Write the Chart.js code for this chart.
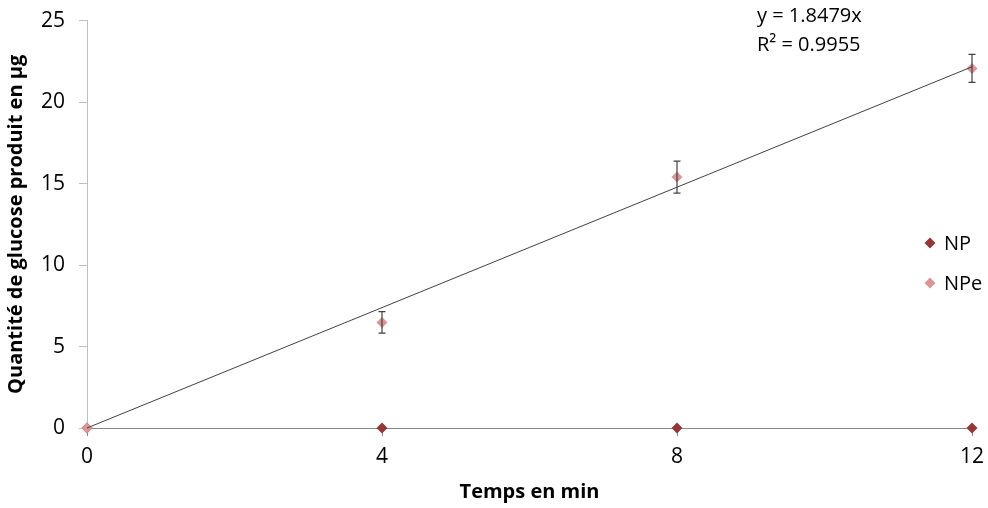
<!DOCTYPE html>
<html>
<head>
<meta charset="utf-8">
<script src="https://cdn.jsdelivr.net/npm/chart.js@4/dist/chart.umd.min.js"></script>
<style>
  html, body { margin: 0; padding: 0; background: #fff; }
  #wrap { width: 988px; height: 508px; }
</style>
</head>
<body>
<div id="wrap"><canvas id="chart" width="988" height="508"></canvas></div>
<script>
// data
const times = [0, 4, 8, 12];
const npValues = [0, 0, 0, 0];
const npeValues = [0, 6.48, 15.4, 22.07];
const npeErrors = [0, 0.66, 0.98, 0.86];
const trendX = [0, 12];
const trendY = [0, 22.17];
const equationLines = ['y = 1.8479x', 'R² = 0.9955'];
const seriesNames = ['NP', 'NPe'];
const seriesColors = ['#953735', '#D99694'];

const FONT = '"Open Sans", "Noto Sans", sans-serif';

const errorBars = {
    id: 'errorBars',
    afterDatasetsDraw(chart) {
        const ctx = chart.ctx;
        const x = chart.scales.x, y = chart.scales.y;
        ctx.save();
        ctx.strokeStyle = '#404040';
        ctx.lineWidth = 1.2;
        times.forEach((t, i) => {
            if (!npeErrors[i]) return;
            const px = x.getPixelForValue(t);
            const top = y.getPixelForValue(npeValues[i] + npeErrors[i]);
            const bot = y.getPixelForValue(npeValues[i] - npeErrors[i]);
            ctx.beginPath();
            ctx.moveTo(px, top); ctx.lineTo(px, bot);
            ctx.moveTo(px - 3.5, top); ctx.lineTo(px + 3.5, top);
            ctx.moveTo(px - 3.5, bot); ctx.lineTo(px + 3.5, bot);
            ctx.stroke();
        });
        ctx.restore();
    }
};

const extras = {
    id: 'extras',
    afterDraw(chart) {
        const ctx = chart.ctx;
        const area = chart.chartArea;
        ctx.save();
        // trendline equation
        ctx.fillStyle = '#000';
        ctx.font = '20px ' + FONT;
        ctx.textBaseline = 'middle';
        ctx.textAlign = 'left';
        ctx.fillText(equationLines[0], 757, 16);
        ctx.fillText(equationLines[1], 757, 45);
        // legend
        seriesNames.forEach((name, i) => {
            const cx = area.right - 42;
            const cy = 243 + i * 40;
            ctx.fillStyle = seriesColors[i];
            ctx.beginPath();
            ctx.moveTo(cx, cy - 5.5); ctx.lineTo(cx + 5.5, cy);
            ctx.lineTo(cx, cy + 5.5); ctx.lineTo(cx - 5.5, cy);
            ctx.closePath();
            ctx.fill();
            ctx.fillStyle = '#000';
            ctx.fillText(name, cx + 14, cy + 1);
        });
        ctx.restore();
    }
};

new Chart(document.getElementById('chart'), {
    type: 'scatter',
    data: {
        datasets: [
            {
                label: 'Trend',
                data: trendX.map((t, i) => ({ x: t, y: trendY[i] })),
                showLine: true,
                borderColor: '#404040',
                borderWidth: 1,
                pointRadius: 0,
                order: 0
            },
            {
                label: seriesNames[1],
                data: times.map((t, i) => ({ x: t, y: npeValues[i] })),
                pointStyle: 'rectRot',
                pointRadius: 5.5,
                backgroundColor: seriesColors[1],
                borderColor: seriesColors[1],
                borderWidth: 0,
                order: 1
            },
            {
                label: seriesNames[0],
                data: times.map((t, i) => ({ x: t, y: npValues[i] })),
                pointStyle: 'rectRot',
                pointRadius: 5.5,
                backgroundColor: seriesColors[0],
                borderColor: seriesColors[0],
                borderWidth: 0,
                order: 2
            }
        ]
    },
    options: {
        responsive: false,
        animation: false,
        clip: false,
        layout: { padding: { top: 20.7, right: 16, left: 0, bottom: 0 } },
        plugins: {
            legend: { display: false },
            tooltip: { enabled: false }
        },
        scales: {
            x: {
                type: 'linear',
                min: 0,
                max: 12,
                ticks: { stepSize: 4, color: '#000', padding: 8, font: { family: FONT, size: 21 } },
                grid: { drawOnChartArea: false, tickLength: 8, color: '#898989' },
                border: { color: '#898989', width: 1 },
                title: { display: true, text: 'Temps en min', color: '#000', font: { family: FONT, size: 20, weight: 'bold' }, padding: { top: 10 } },
                afterFit: (scale) => {
                    scale.height = 80;
                    scale.paddingLeft = 0;
                    scale.paddingRight = 0;
                }
            },
            y: {
                min: 0,
                max: 25,
                ticks: { stepSize: 5, color: '#000', padding: 14, font: { family: FONT, size: 21 } },
                grid: { drawOnChartArea: false, tickLength: 8, color: '#BFBFBF' },
                border: { color: '#BFBFBF', width: 1 },
                title: { display: true, text: 'Quantité de glucose produit en µg', color: '#000', font: { family: FONT, size: 20, weight: 'bold' }, padding: { bottom: 4 } },
                afterFit: (scale) => {
                    scale.width = 87;
                    scale.paddingTop = 0;
                    scale.paddingBottom = 0;
                }
            }
        }
    },
    plugins: [errorBars, extras]
});
</script>
</body>
</html>
